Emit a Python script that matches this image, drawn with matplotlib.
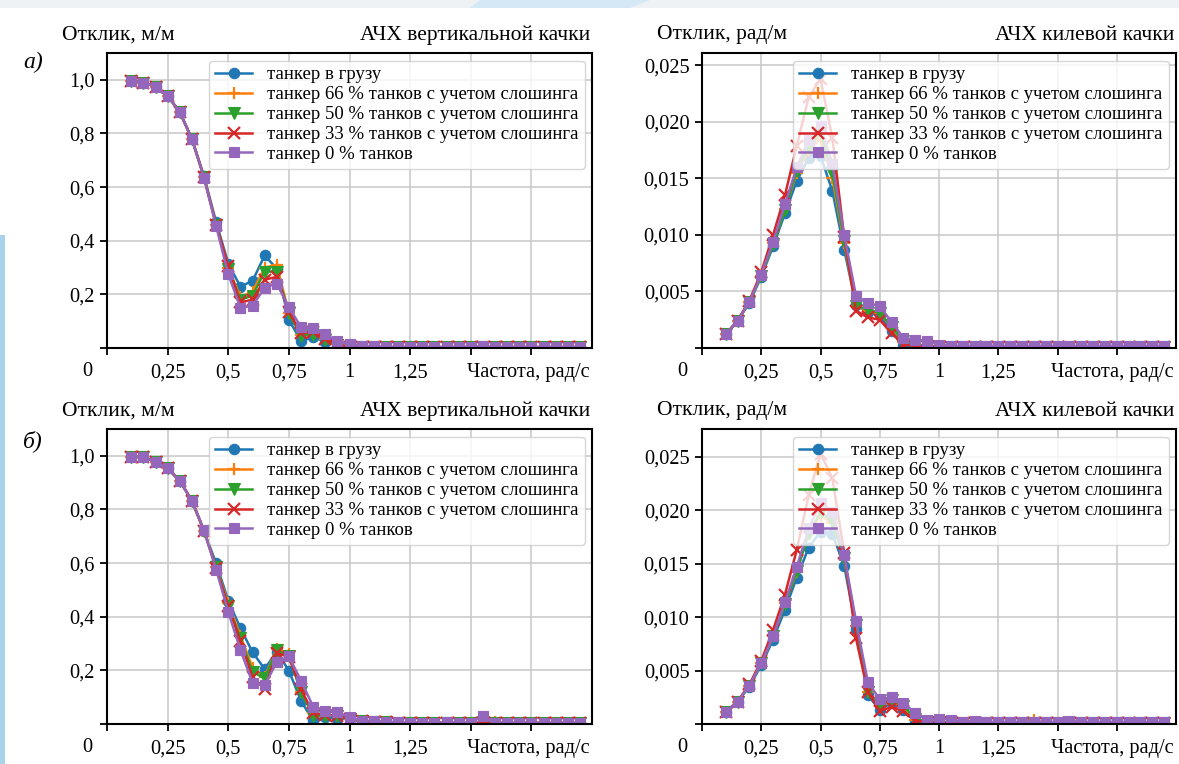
import matplotlib
matplotlib.use("Agg")
import matplotlib.pyplot as plt
from matplotlib.patches import Rectangle, Polygon

plt.rcParams['font.family'] = ['Liberation Serif', 'DejaVu Serif']

# Frequencies, rad/s
freq = [0.10, 0.15, 0.20, 0.25, 0.30, 0.35, 0.40, 0.45, 0.50, 0.55,
        0.60, 0.65, 0.70, 0.75, 0.80, 0.85, 0.90, 0.95, 1.00, 1.05,
        1.10, 1.15, 1.20, 1.25, 1.30, 1.35, 1.40, 1.45, 1.50, 1.55,
        1.60, 1.65, 1.70, 1.75, 1.80, 1.85, 1.90, 1.95]

series_labels = [
    "танкер в грузу",
    "танкер 66 % танков с учетом слошинга",
    "танкер 50 % танков с учетом слошинга",
    "танкер 33 % танков с учетом слошинга",
    "танкер 0 % танков",
]

# --- а) heave RAO, m/m
heave_a_loaded = [0.997, 0.990, 0.975, 0.940, 0.880, 0.780, 0.640, 0.470,
                  0.315, 0.229, 0.250, 0.345, 0.296, 0.105, 0.027, 0.040, 0.024, 0.009,
                  0.004, 0.003, 0.003, 0.003, 0.003, 0.003, 0.003, 0.003, 0.003, 0.003,
                  0.003, 0.003, 0.003, 0.003, 0.003, 0.003, 0.003, 0.003, 0.003, 0.003]
heave_a_66 = [0.997, 0.990, 0.975, 0.940, 0.880, 0.780, 0.637, 0.460,
              0.300, 0.190, 0.210, 0.300, 0.310, 0.130, 0.050, 0.055, 0.035, 0.015,
              0.006, 0.004, 0.003, 0.003, 0.003, 0.003, 0.003, 0.003, 0.003, 0.003,
              0.003, 0.003, 0.003, 0.003, 0.003, 0.003, 0.003, 0.003, 0.003, 0.003]
heave_a_50 = [0.997, 0.990, 0.975, 0.940, 0.880, 0.780, 0.637, 0.460,
              0.295, 0.180, 0.195, 0.285, 0.285, 0.130, 0.045, 0.050, 0.030, 0.012,
              0.005, 0.004, 0.003, 0.003, 0.003, 0.003, 0.003, 0.003, 0.003, 0.003,
              0.003, 0.003, 0.003, 0.003, 0.003, 0.003, 0.003, 0.003, 0.003, 0.003]
heave_a_33 = [0.997, 0.990, 0.975, 0.940, 0.880, 0.780, 0.637, 0.460,
              0.305, 0.170, 0.180, 0.255, 0.265, 0.135, 0.055, 0.060, 0.035, 0.012,
              0.005, 0.004, 0.003, 0.003, 0.003, 0.003, 0.003, 0.003, 0.003, 0.003,
              0.003, 0.003, 0.003, 0.003, 0.003, 0.003, 0.003, 0.003, 0.003, 0.003]
heave_a_0 = [0.997, 0.990, 0.975, 0.940, 0.880, 0.780, 0.635, 0.455,
             0.275, 0.151, 0.157, 0.225, 0.240, 0.152, 0.078, 0.073, 0.052, 0.025,
             0.015, 0.009, 0.006, 0.005, 0.004, 0.004, 0.004, 0.004, 0.004, 0.004,
             0.004, 0.007, 0.004, 0.004, 0.004, 0.004, 0.004, 0.004, 0.004, 0.004]

# --- а) pitch RAO, rad/m
pitch_a_loaded = [0.0012, 0.0024, 0.0040, 0.0063, 0.0090, 0.0119, 0.0148, 0.0168,
                  0.0170, 0.0139, 0.0087, 0.0038, 0.0032, 0.0029, 0.0015, 0.0002, 0.0001, 0.0001,
                  0.0001, 0.0001, 0.0001, 0.0001, 0.0001, 0.0001, 0.0001, 0.0001, 0.0001, 0.0001,
                  0.0001, 0.0001, 0.0001, 0.0001, 0.0001, 0.0001, 0.0001, 0.0001, 0.0001, 0.0001]
pitch_a_66 = [0.0012, 0.0024, 0.0041, 0.0064, 0.0093, 0.0123, 0.0155, 0.0175,
              0.0185, 0.0150, 0.0093, 0.0037, 0.0033, 0.0031, 0.0018, 0.0005, 0.0003, 0.0002,
              0.0001, 0.0001, 0.0001, 0.0001, 0.0001, 0.0001, 0.0001, 0.0001, 0.0001, 0.0001,
              0.0001, 0.0001, 0.0001, 0.0001, 0.0001, 0.0001, 0.0001, 0.0001, 0.0001, 0.0001]
pitch_a_50 = [0.0012, 0.0024, 0.0041, 0.0064, 0.0092, 0.0122, 0.0157, 0.0178,
              0.0190, 0.0155, 0.0095, 0.0037, 0.0034, 0.0031, 0.0019, 0.0006, 0.0003, 0.0002,
              0.0001, 0.0001, 0.0001, 0.0001, 0.0001, 0.0001, 0.0001, 0.0001, 0.0001, 0.0001,
              0.0001, 0.0001, 0.0001, 0.0001, 0.0001, 0.0001, 0.0001, 0.0001, 0.0001, 0.0001]
pitch_a_33 = [0.0012, 0.0024, 0.0042, 0.0067, 0.0100, 0.0135, 0.0179, 0.0222,
              0.0238, 0.0186, 0.0098, 0.0033, 0.0027, 0.0025, 0.0013, 0.0003, 0.0002, 0.0002,
              0.0001, 0.0001, 0.0001, 0.0001, 0.0001, 0.0001, 0.0001, 0.0001, 0.0001, 0.0001,
              0.0001, 0.0001, 0.0001, 0.0001, 0.0001, 0.0001, 0.0001, 0.0001, 0.0001, 0.0001]
pitch_a_0 = [0.0012, 0.0024, 0.0041, 0.0065, 0.0094, 0.0127, 0.0160, 0.0184,
             0.0196, 0.0163, 0.0100, 0.0046, 0.0040, 0.0037, 0.0023, 0.0009, 0.0007, 0.0006,
             0.0003, 0.0002, 0.0002, 0.0002, 0.0002, 0.0002, 0.0002, 0.0002, 0.0002, 0.0002,
             0.0002, 0.0002, 0.0002, 0.0002, 0.0002, 0.0002, 0.0002, 0.0002, 0.0002, 0.0002]

# --- б) heave RAO, m/m
heave_b_loaded = [0.997, 0.995, 0.978, 0.953, 0.907, 0.833, 0.720, 0.599,
                  0.460, 0.358, 0.268, 0.205, 0.270, 0.199, 0.086, 0.012, 0.025, 0.020,
                  0.020, 0.010, 0.008, 0.006, 0.005, 0.004, 0.004, 0.004, 0.004, 0.004,
                  0.004, 0.004, 0.004, 0.004, 0.004, 0.004, 0.004, 0.004, 0.004, 0.004]
heave_b_66 = [0.997, 0.995, 0.978, 0.953, 0.907, 0.833, 0.721, 0.585,
              0.450, 0.330, 0.210, 0.175, 0.280, 0.260, 0.120, 0.040, 0.035, 0.030,
              0.020, 0.010, 0.008, 0.006, 0.005, 0.004, 0.004, 0.004, 0.004, 0.004,
              0.004, 0.008, 0.006, 0.004, 0.004, 0.004, 0.004, 0.004, 0.004, 0.004]
heave_b_50 = [0.997, 0.995, 0.978, 0.953, 0.907, 0.833, 0.721, 0.585,
              0.440, 0.320, 0.195, 0.170, 0.275, 0.255, 0.120, 0.030, 0.030, 0.030,
              0.020, 0.010, 0.008, 0.006, 0.005, 0.004, 0.004, 0.004, 0.004, 0.004,
              0.004, 0.006, 0.005, 0.004, 0.004, 0.004, 0.004, 0.004, 0.004, 0.004]
heave_b_33 = [0.997, 0.995, 0.978, 0.953, 0.907, 0.833, 0.721, 0.580,
              0.440, 0.310, 0.175, 0.130, 0.265, 0.250, 0.130, 0.040, 0.035, 0.030,
              0.020, 0.010, 0.008, 0.006, 0.005, 0.004, 0.004, 0.004, 0.004, 0.004,
              0.004, 0.005, 0.004, 0.004, 0.004, 0.004, 0.004, 0.004, 0.004, 0.004]
heave_b_0 = [0.997, 0.995, 0.978, 0.953, 0.907, 0.833, 0.722, 0.576,
             0.418, 0.277, 0.154, 0.144, 0.231, 0.252, 0.162, 0.065, 0.049, 0.043,
             0.025, 0.012, 0.012, 0.008, 0.008, 0.005, 0.005, 0.005, 0.007, 0.005,
             0.005, 0.031, 0.005, 0.005, 0.005, 0.005, 0.005, 0.005, 0.005, 0.005]

# --- б) pitch RAO, rad/m
pitch_b_loaded = [0.0011, 0.0021, 0.0035, 0.0055, 0.0079, 0.0107, 0.0137, 0.0165,
                  0.0180, 0.0178, 0.0148, 0.0089, 0.0027, 0.0013, 0.0020, 0.0013, 0.0002, 0.0001,
                  0.0001, 0.0001, 0.0001, 0.0001, 0.0001, 0.0001, 0.0001, 0.0001, 0.0001, 0.0001,
                  0.0001, 0.0001, 0.0001, 0.0001, 0.0001, 0.0001, 0.0001, 0.0001, 0.0001, 0.0001]
pitch_b_66 = [0.0011, 0.0021, 0.0036, 0.0057, 0.0082, 0.0113, 0.0142, 0.0180,
              0.0195, 0.0188, 0.0155, 0.0092, 0.0030, 0.0017, 0.0021, 0.0016, 0.0004, 0.0002,
              0.0002, 0.0001, 0.0001, 0.0001, 0.0001, 0.0001, 0.0001, 0.0001, 0.0004, 0.0001,
              0.0001, 0.0001, 0.0001, 0.0001, 0.0001, 0.0001, 0.0001, 0.0001, 0.0001, 0.0001]
pitch_b_50 = [0.0011, 0.0021, 0.0036, 0.0057, 0.0082, 0.0112, 0.0143, 0.0178,
              0.0198, 0.0190, 0.0155, 0.0093, 0.0030, 0.0018, 0.0022, 0.0017, 0.0005, 0.0002,
              0.0002, 0.0001, 0.0001, 0.0001, 0.0001, 0.0001, 0.0001, 0.0001, 0.0001, 0.0001,
              0.0001, 0.0001, 0.0001, 0.0001, 0.0001, 0.0001, 0.0001, 0.0001, 0.0001, 0.0001]
pitch_b_33 = [0.0011, 0.0021, 0.0037, 0.0059, 0.0088, 0.0121, 0.0163, 0.0214,
              0.0253, 0.0230, 0.0160, 0.0080, 0.0030, 0.0012, 0.0016, 0.0012, 0.0003, 0.0002,
              0.0001, 0.0001, 0.0001, 0.0001, 0.0001, 0.0001, 0.0001, 0.0001, 0.0001, 0.0001,
              0.0001, 0.0001, 0.0001, 0.0001, 0.0001, 0.0001, 0.0001, 0.0001, 0.0001, 0.0001]
pitch_b_0 = [0.0011, 0.0021, 0.0036, 0.0057, 0.0082, 0.0114, 0.0147, 0.0183,
             0.0207, 0.0198, 0.0158, 0.0096, 0.0039, 0.0023, 0.0025, 0.0020, 0.0010, 0.0004,
             0.0005, 0.0004, 0.0002, 0.0003, 0.0002, 0.0002, 0.0002, 0.0002, 0.0002, 0.0002,
             0.0002, 0.0003, 0.0002, 0.0002, 0.0002, 0.0002, 0.0002, 0.0002, 0.0002, 0.0002]

x_ticks = [0, 0.25, 0.5, 0.75, 1.0, 1.25, 1.5, 1.75]
x_ticklabels = ["", "0,25", "0,5", "0,75", "1", "1,25", "", ""]
heave_ticks = [0, 0.2, 0.4, 0.6, 0.8, 1.0]
heave_ticklabels = ["", "0,2", "0,4", "0,6", "0,8", "1,0"]
pitch_ticks = [0, 0.005, 0.010, 0.015, 0.020, 0.025]
pitch_ticklabels = ["", "0,005", "0,010", "0,015", "0,020", "0,025"]

colors = ["#1f77b4", "#ff7f0e", "#2ca02c", "#d62728", "#9467bd"]
markers = ["o", "+", "v", "x", "s"]

W, H = 1179, 764
fig = plt.figure(figsize=(W / 100, H / 100), dpi=100)


def fx(px):
    return px / W


def fy(py):
    return 1 - py / H


# page background: pale frame strips
fig.patches.append(Rectangle((0, fy(8)), 1, 8 / H, transform=fig.transFigure,
                             facecolor="#eef2f5", edgecolor="none", zorder=-5))
fig.patches.append(Polygon([(fx(480), fy(0)), (fx(650), fy(0)), (fx(630), fy(8)), (fx(470), fy(8))],
                           closed=True, transform=fig.transFigure,
                           facecolor="#d4e9f5", edgecolor="none", zorder=-4))
fig.patches.append(Rectangle((0, 0), 5 / W, fy(235), transform=fig.transFigure,
                             facecolor="#a9d3ea", edgecolor="none", zorder=-4))

TICK_FS = 14.7
CAP_FS = 15.5
LEG_FS = 13.5


def make_panel(rect_px, series, yticks, yticklabels, ylim, ylabel, title):
    left, top, right, bottom = rect_px
    ax = fig.add_axes([fx(left), fy(bottom), fx(right - left), (bottom - top) / H])
    for vals, lab, c, m in zip(series, series_labels, colors, markers):
        ms = 7.5 if m in ("o", "s") else 8
        ax.plot(freq, vals, color=c, marker=m, markersize=ms, linewidth=1.8,
                markeredgewidth=1.6 if m in ("+", "x") else 0.8, label=lab)
    ax.set_xlim(0, 2.0)
    ax.set_ylim(*ylim)
    ax.set_xticks(x_ticks)
    ax.set_xticklabels(x_ticklabels)
    ax.set_yticks(yticks)
    ax.set_yticklabels(yticklabels)
    ax.grid(True, color="#c8c8c8", linewidth=1.1)
    ax.set_axisbelow(True)
    for s in ax.spines.values():
        s.set_linewidth(1.5)
        s.set_color("black")
    ax.tick_params(direction="out", length=5, width=1.3, labelsize=TICK_FS,
                   pad=4)
    ax.tick_params(axis="x", pad=6)
    ax.legend(loc="upper right", fontsize=LEG_FS, framealpha=0.8,
              handlelength=2.0, labelspacing=0.15, borderpad=0.3,
              handletextpad=0.8, borderaxespad=0.4, edgecolor="#cccccc")
    # corner origin label and axis captions
    fig.text(fx(left - 20), fy(bottom + 24), "0", fontsize=TICK_FS, ha="center", va="center")
    fig.text(fx(right - 2), fy(bottom + 24), "Частота, рад/с", fontsize=TICK_FS,
             ha="right", va="center")
    fig.text(fx(left - 45), fy(top - 18), ylabel, fontsize=CAP_FS, ha="left", va="center")
    fig.text(fx(right - 2), fy(top - 18), title, fontsize=CAP_FS, ha="right", va="center")
    return ax


make_panel((107, 53, 592, 348),
           [heave_a_loaded, heave_a_66, heave_a_50, heave_a_33, heave_a_0],
           heave_ticks, heave_ticklabels, (0, 1.1),
           "Отклик, м/м", "АЧХ вертикальной качки")
make_panel((702, 53, 1176, 348),
           [pitch_a_loaded, pitch_a_66, pitch_a_50, pitch_a_33, pitch_a_0],
           pitch_ticks, pitch_ticklabels, (0, 0.0261),
           "Отклик, рад/м", "АЧХ килевой качки")
make_panel((107, 429, 592, 724),
           [heave_b_loaded, heave_b_66, heave_b_50, heave_b_33, heave_b_0],
           heave_ticks, heave_ticklabels, (0, 1.1),
           "Отклик, м/м", "АЧХ вертикальной качки")
make_panel((702, 429, 1176, 724),
           [pitch_b_loaded, pitch_b_66, pitch_b_50, pitch_b_33, pitch_b_0],
           pitch_ticks, pitch_ticklabels, (0, 0.0276),
           "Отклик, рад/м", "АЧХ килевой качки")

fig.text(fx(33), fy(62), "а)", fontsize=17, style="italic", ha="center", va="center")
fig.text(fx(33), fy(441), "б)", fontsize=17, style="italic", ha="center", va="center")

fig.savefig("out.png", dpi=100)
